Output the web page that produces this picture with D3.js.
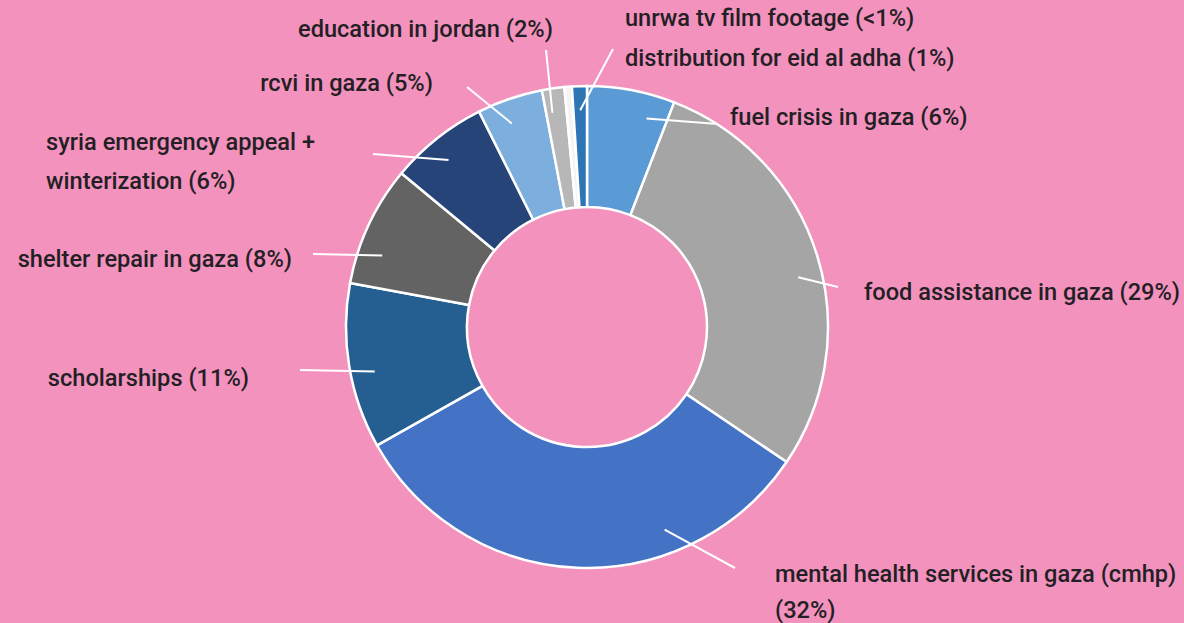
<!DOCTYPE html>
<html>
<head>
<meta charset="utf-8">
<script src="https://cdn.jsdelivr.net/npm/d3@7"></script>
<style>
  body { margin: 0; background: #f492be; }
  svg { display: block; }
  .lbl { font-family: Roboto, "Noto Sans", sans-serif; font-size: 23.6px; font-weight: 500; fill: #231f24; }
</style>
</head>
<body>
<div id="chart"></div>
<script>
// share of funds by project, clockwise from 12 o'clock
var categories = ["fuel crisis in gaza", "food assistance in gaza", "mental health services in gaza (cmhp)",
  "scholarships", "shelter repair in gaza", "syria emergency appeal + winterization",
  "rcvi in gaza", "education in jordan", "unrwa tv film footage", "distribution for eid al adha"];
var values = [5.9, 28.6, 32.4, 11.1, 8.1, 6.6, 4.4, 1.5, 0.5, 1.0];
var pctLabels = ["6%", "29%", "32%", "11%", "8%", "6%", "5%", "2%", "<1%", "1%"];
var colors = ["#5b9bd5", "#a5a5a5", "#4472c4", "#255e91", "#636363", "#264478",
  "#7cafdd", "#b7b7b7", "#f4f4f4", "#2e75b6"];

// label layout: text lines, baseline, anchor, leader line (t = fraction along slice, lx/ly = outer end)
var labelLayout = [
  {lines: ["fuel crisis in gaza (6%)"], x: 730, y: 125, gap: 0, anchor: "start", t: 0.75, lx: 718, ly: 124},
  {lines: ["food assistance in gaza (29%)"], x: 864, y: 300, gap: 0, anchor: "start", t: 0.54, lx: 838, ly: 287},
  {lines: ["mental health services in gaza (cmhp)", "(32%)"], x: 775, y: 582, gap: 36, anchor: "start", t: 0.3, lx: 735, ly: 568},
  {lines: ["scholarships (11%)"], x: 249, y: 386, gap: 0, anchor: "end", t: 0.44, lx: 300, ly: 370},
  {lines: ["shelter repair in gaza (8%)"], x: 292, y: 267, gap: 0, anchor: "end", t: 0.3, lx: 313, ly: 254},
  {lines: ["syria emergency appeal +", "winterization (6%)"], x: 46, y: 150, gap: 39, anchor: "start", t: 0.45, lx: 373, ly: 154},
  {lines: ["rcvi in gaza (5%)"], x: 433, y: 91, gap: 0, anchor: "end", t: 0.4, lx: 467, ly: 87},
  {lines: ["education in jordan (2%)"], x: 553, y: 37, gap: 0, anchor: "end", t: 0.3, lx: 546, ly: 50},
  {lines: ["unrwa tv film footage (<1%)"], x: 625, y: 26, gap: 0, anchor: "start", t: null},
  {lines: ["distribution for eid al adha (1%)"], x: 625, y: 66, gap: 0, anchor: "start", t: 0.5, lx: 613, ly: 49}
];

var width = 1184, height = 623;
var cx = 587, cy = 327, outerR = 241, innerR = 120;

var svg = d3.select("#chart").append("svg")
    .attr("width", width)
    .attr("height", height);

var data = values.map(function(v, i) {
  return {name: categories[i], value: v, pct: pctLabels[i], color: colors[i], layout: labelLayout[i]};
});

var pie = d3.pie().sort(null).value(function(d) { return d.value; });
var arc = d3.arc().innerRadius(innerR).outerRadius(outerR);

var g = svg.append("g").attr("transform", "translate(" + cx + "," + cy + ")");

var arcs = pie(data);

g.selectAll(".slice")
    .data(arcs)
  .enter().append("path")
    .attr("class", "slice")
    .attr("d", arc)
    .attr("fill", function(d) { return d.data.color; })
    .attr("stroke", "#fff")
    .attr("stroke-width", 2.5);

// leader lines: from a point inside the slice out toward the label
var leadR = outerR * 0.9;
function leadAngle(d) { return d.startAngle + (d.endAngle - d.startAngle) * d.data.layout.t; }

g.selectAll(".leader")
    .data(arcs.filter(function(d) { return d.data.layout.t !== null; }))
  .enter().append("line")
    .attr("class", "leader")
    .attr("x1", function(d) { return Math.sin(leadAngle(d)) * leadR; })
    .attr("y1", function(d) { return -Math.cos(leadAngle(d)) * leadR; })
    .attr("x2", function(d) { return d.data.layout.lx - cx; })
    .attr("y2", function(d) { return d.data.layout.ly - cy; })
    .attr("stroke", "#fff")
    .attr("stroke-width", 2);

var labels = svg.selectAll(".lbl")
    .data(data)
  .enter().append("text")
    .attr("class", "lbl")
    .attr("x", function(d) { return d.layout.x; })
    .attr("y", function(d) { return d.layout.y; })
    .attr("text-anchor", function(d) { return d.layout.anchor; });

labels.selectAll("tspan")
    .data(function(d) { return d.layout.lines.map(function(l) { return {t: l, x: d.layout.x, gap: d.layout.gap}; }); })
  .enter().append("tspan")
    .attr("x", function(d) { return d.x; })
    .attr("dy", function(d, i) { return i === 0 ? 0 : d.gap; })
    .text(function(d) { return d.t; });
</script>
</body>
</html>
